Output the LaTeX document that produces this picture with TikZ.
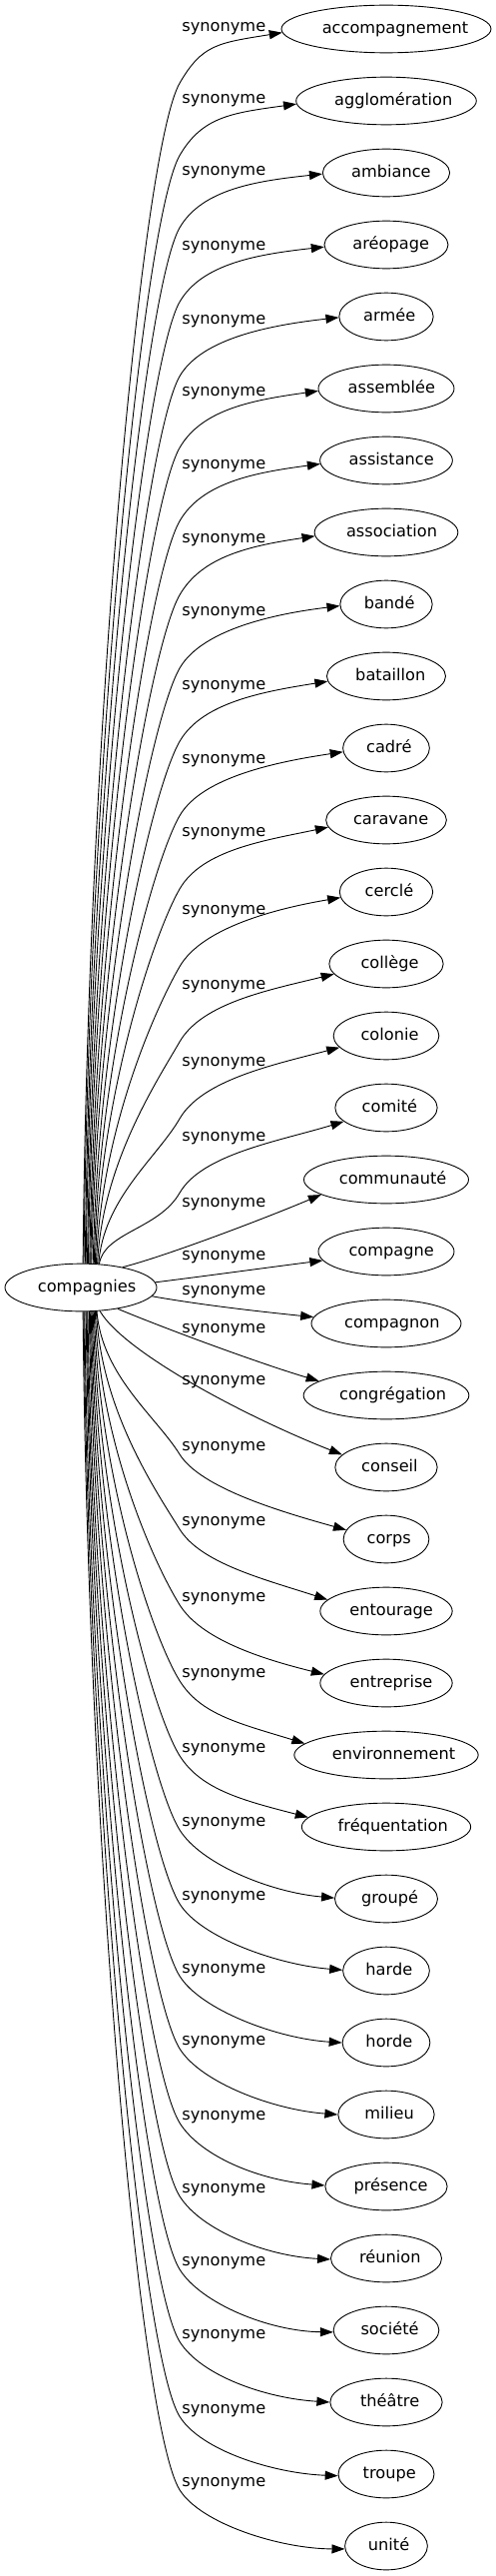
\documentclass[tikz,border=0pt]{standalone}
\usepackage{fontspec}
\setmainfont{DejaVu Sans}
\usetikzlibrary{arrows.meta,shapes.geometric}
\newsavebox\gvbox
\newcommand\gvtext[1]{\sbox\gvbox{#1}\makebox[\wd\gvbox][l]{\hspace*{0.0615\wd\gvbox}\usebox\gvbox}}
\begin{document}
\begin{tikzpicture}[x=1pt,y=-1pt,
  lbl/.style={font=\fontsize{16.2pt}{19pt}\selectfont},
  term/.style={lbl, draw, ellipse, line width=0.9pt, inner sep=0pt,
    minimum height=47.7pt, text height=12.3pt, text depth=3.9pt},
  rel/.style={lbl, inner sep=0pt},
  syn/.style={line width=0.9pt, -{Triangle[length=13pt,width=9pt]}}
]
\useasboundingbox (0,0) rectangle (497,2579);
\node[term, minimum width=152pt] (comp) at (81,1289) {\gvtext{compagnies}};
\foreach \i/\nm/\w/\lb/\ee in {
 0/accompagnement/210/28.3/4,
 1/agglomération/180.6/100.7/3,
 2/ambiance/127.3/173/1,
 3/aréopage/124/247.3/1.7,
 4/armée/94.3/321.7/1,
 5/assemblée/136/393.3/2.7,
 6/assistance/132.7/466.7/3,
 7/association/143.7/540.7/3.7,
 8/bandé/92.3/614/1.7,
 9/bataillon/119/687.3/4.7,
 10/cadré/86.7/761.7/3.7,
 11/caravane/120.7/835/7.3,
 12/cerclé/93.3/912.7/5.3,
 13/collège/114.3/988/10,
 14/colonie/105.7/1065/11.3,
 15/comité/102.3/1139.3/13.7,
 16/communauté/165/1206/15,
 17/compagne/136/1258.3/8.7,
 18/compagnon/150/1294/-6.7,
 19/congrégation/165.7/1331.7/-14,
 20/conseil/102.3/1383.3/-12.3,
 21/corps/85.7/1450/-9.3,
 22/entourage/132.3/1525/-11.3,
 23/entreprise/132.3/1600.7/-8.3,
 24/environnement/184.3/1676.7/-11,
 25/fréquentation/169.3/1751.7/-9,
 26/groupé/103/1826/-1,
 27/harde/86.7/1900/-0.7,
 28/horde/87.7/1972.3/0,
 29/milieu/96.3/2045/-0.3,
 30/présence/122.3/2119.3/-0.7,
 31/réunion/111/2192.7/0.7,
 32/société/105.7/2266/2,
 33/théâtre/112.3/2338.3/0,
 34/troupe/96/2413.3/1.3,
 35/unité/82.7/2486.7/2.7}{
  \pgfmathsetmacro\ty{29+72*\i}
  \node[term, minimum width=\w pt] (t\i) at (387,\ty) {\gvtext{\nm}};
  \node[rel] (l\i) at (224.3,\lb) {synonyme};
  \pgfmathsetmacro\ha{\w/2}
  \pgfmathsetmacro\xoff{\ha*sqrt(1-(\ee/24)^2)}
  \pgfmathtruncatemacro\ea{round(180+atan(\ee/\xoff))}
  \pgfmathsetmacro\Ex{387-\xoff}
  \pgfmathsetmacro\Ey{\ty+\ee}
  \ifnum\i<16
    \pgfmathsetmacro\dx{2+1.1*\i}
    \pgfmathsetmacro\hz{24*sqrt(1-(\dx/76)^2)}
    \pgfmathtruncatemacro\sa{round(atan2(\hz,\dx))}
    \pgfmathsetmacro\sx{81+\dx+5}
    \pgfmathsetmacro\sy{1289-\hz}
    \pgfmathsetmacro\Ay{\lb+55}
    \pgfmathsetmacro\cay{\sy-0.45*(\sy-\Ay)}
    \pgfmathsetmacro\rr{40+0.03*(\sy-\Ay)}
    \pgfmathsetmacro\cbx{180-0.5*\rr}
    \pgfmathsetmacro\cby{\Ay+0.866*\rr}
    \pgfmathsetmacro\ccy{\Ay-39}
    \pgfmathsetmacro\cdx{\Ex-65}
    \pgfmathsetmacro\cdy{\Ey+6+\ee}
    \draw[syn] (comp.\sa) .. controls (\sx,\cay) and (\cbx,\cby) .. (180,\Ay)
      .. controls (202.5,\ccy) and (\cdx,\cdy) .. (t\i.\ea);
  \fi
  \ifnum\i>20
    \pgfmathsetmacro\dx{16-(\i-21)}
    \pgfmathsetmacro\hz{24*sqrt(1-(\dx/76)^2)}
    \pgfmathtruncatemacro\sa{round(360-atan2(\hz,\dx))}
    \pgfmathsetmacro\sx{81+\dx+5}
    \pgfmathsetmacro\sy{1289+\hz}
    \pgfmathsetmacro\Ay{\lb+6}
    \pgfmathsetmacro\cay{\sy+0.45*(\Ay-\sy)}
    \pgfmathsetmacro\rr{40+0.03*(\Ay-\sy)}
    \pgfmathsetmacro\cbx{180-0.53*\rr}
    \pgfmathsetmacro\cby{\Ay-0.85*\rr}
    \pgfmathsetmacro\ccy{\Ay+34}
    \pgfmathsetmacro\cdx{\Ex-65}
    \pgfmathsetmacro\cdy{\Ey-4+1.5*\ee}
    \draw[syn] (comp.\sa) .. controls (\sx,\cay) and (\cbx,\cby) .. (180,\Ay)
      .. controls (201.2,\ccy) and (\cdx,\cdy) .. (t\i.\ea);
  \fi
}
\draw[syn] (comp.26) .. controls (165,1258) and (265,1220) .. (t16.193);
\draw[syn] (comp.4) .. controls (210,1277) and (268,1269) .. (t17.188);
\draw[syn] (comp.353) .. controls (205,1307) and (260,1313) .. (t18.175);
\draw[syn] (comp.330) .. controls (165,1330) and (260,1365) .. (t19.168);
\draw[syn] (comp.309) .. controls (125,1355) and (250,1420) .. (t20.164);
\end{tikzpicture}
\end{document}
